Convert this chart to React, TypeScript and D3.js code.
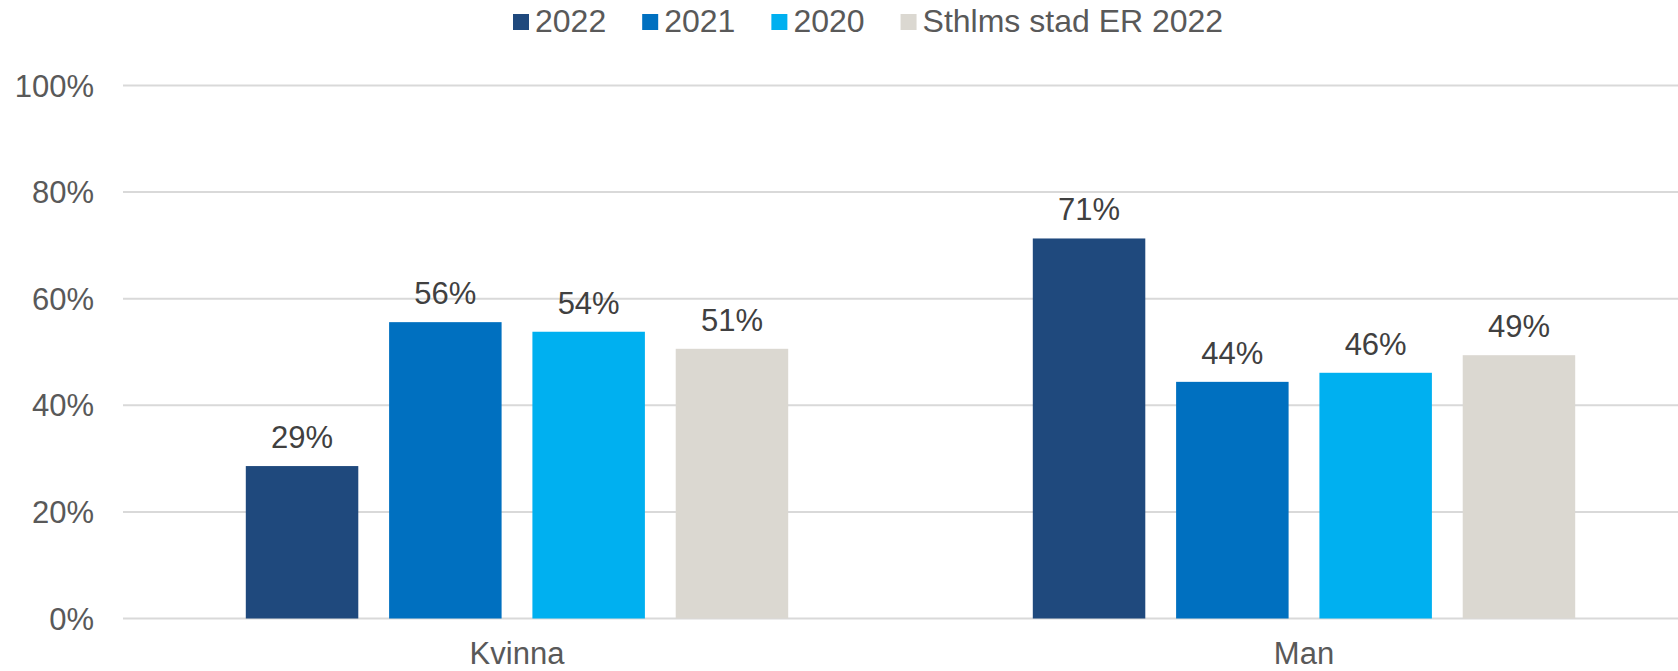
import React, { useEffect, useRef } from "react";
import * as d3 from "d3";

const categories = ["Kvinna", "Man"];
const seriesNames = ["2022", "2021", "2020", "Sthlms stad ER 2022"];
const values2022 = [0.286, 0.713];
const values2021 = [0.556, 0.444];
const values2020 = [0.538, 0.461];
const valuesSthlm = [0.506, 0.494];
const yTicks = [0, 0.2, 0.4, 0.6, 0.8, 1.0];
const colors = ["#1F497D", "#0070C0", "#00B0F0", "#DBD8D1"];

const W = 1678;
const H = 671;
const FONT = "'Liberation Sans', Arial, sans-serif";

export default function App() {
  const ref = useRef<SVGSVGElement | null>(null);

  useEffect(() => {
    const svg = d3.select(ref.current);
    svg.selectAll("*").remove();

    const series = [values2022, values2021, values2020, valuesSthlm];
    const y = d3.scaleLinear().domain([0, 1]).range([618.5, 85.5]);
    const x0 = d3.scaleBand().domain(categories).range([123.5, 1697.5]).padding(0);
    const groupW = 542.4;
    const off = (x0.bandwidth() - groupW) / 2;
    const x1 = d3
      .scaleBand()
      .domain(seriesNames)
      .range([off, off + groupW])
      .paddingInner(0.215)
      .paddingOuter(0);

    // gridlines
    const g = svg.append("g");
    g.selectAll("line.grid")
      .data(yTicks)
      .join("line")
      .attr("x1", 123)
      .attr("x2", W)
      .attr("y1", (d) => y(d))
      .attr("y2", (d) => y(d))
      .attr("stroke", "#D9D9D9")
      .attr("stroke-width", 2);

    // y tick labels
    g.selectAll("text.tick")
      .data(yTicks)
      .join("text")
      .attr("x", 94)
      .attr("y", (d) => y(d) + 11)
      .attr("text-anchor", "end")
      .attr("font-family", FONT)
      .attr("font-size", 31)
      .attr("fill", "#595959")
      .text((d) => d3.format(".0%")(d));

    // bars
    seriesNames.forEach((s, si) => {
      const vals = series[si];
      const sg = svg.append("g");
      sg.selectAll("rect")
        .data(categories)
        .join("rect")
        .attr("x", (c) => (x0(c) as number) + (x1(s) as number))
        .attr("width", x1.bandwidth())
        .attr("y", (c, i) => y(vals[i]))
        .attr("height", (c, i) => y(0) - y(vals[i]))
        .attr("fill", colors[si]);
      sg.selectAll("text")
        .data(categories)
        .join("text")
        .attr("x", (c) => (x0(c) as number) + (x1(s) as number) + x1.bandwidth() / 2)
        .attr("y", (c, i) => y(vals[i]) - 18)
        .attr("text-anchor", "middle")
        .attr("font-family", FONT)
        .attr("font-size", 31)
        .attr("fill", "#404040")
        .text((c, i) => Math.round(vals[i] * 100) + "%");
    });

    // category labels
    svg
      .append("g")
      .selectAll("text")
      .data(categories)
      .join("text")
      .attr("x", (c) => (x0(c) as number) + x0.bandwidth() / 2)
      .attr("y", 664)
      .attr("text-anchor", "middle")
      .attr("font-family", FONT)
      .attr("font-size", 31)
      .attr("fill", "#595959")
      .text((c) => c);

    // legend
    const lg = svg.append("g");
    let lx = 513;
    seriesNames.forEach((s, si) => {
      lg.append("rect")
        .attr("x", lx)
        .attr("y", 14)
        .attr("width", 16)
        .attr("height", 16)
        .attr("fill", colors[si]);
      const t = lg
        .append("text")
        .attr("x", lx + 22)
        .attr("y", 32)
        .attr("font-family", FONT)
        .attr("font-size", 32)
        .attr("fill", "#595959")
        .text(s);
      const tw = (t.node() as SVGTextElement).getComputedTextLength();
      lx = lx + 22 + tw + 36;
    });
  }, []);

  return (
    <svg
      ref={ref}
      width={W}
      height={H}
      style={{ position: "absolute", left: 0, top: 0, background: "#fff" }}
    />
  );
}
